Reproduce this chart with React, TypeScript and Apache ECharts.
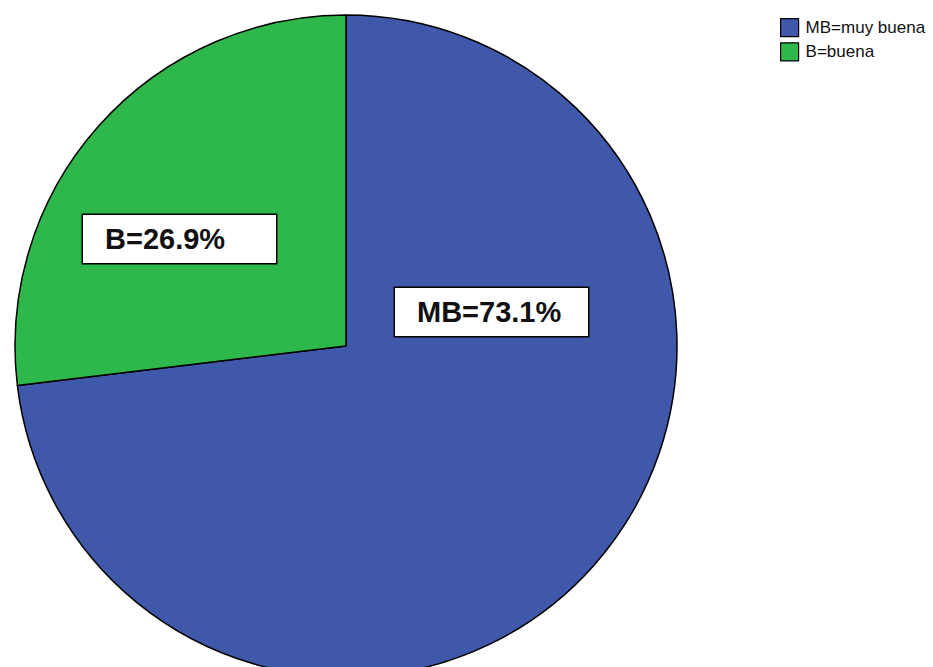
import React, { useEffect, useRef } from "react";
import * as echarts from "echarts";

const categories = ["MB=muy buena", "B=buena"];
const values = [73.1, 26.9];
const labelTexts = ["MB=73.1%", "B=26.9%"];
const colors = ["#3f58aa", "#2eb84b"];
// label box centres (layout, px)
const labelCentres = [
  [491.5, 312],
  [179.5, 239],
];

export default function App() {
  const ref = useRef<HTMLDivElement>(null);
  useEffect(() => {
    if (!ref.current) return;
    const chart = echarts.init(ref.current, undefined, { renderer: "svg" });
    chart.setOption({
      animation: false,
      backgroundColor: "#ffffff",
      legend: {
        orient: "vertical",
        left: 780,
        top: 18,
        icon: "rect",
        itemWidth: 18,
        itemHeight: 18,
        itemGap: 5,
        padding: 0,
        selectedMode: false,
        data: categories,
        itemStyle: { borderColor: "#000", borderWidth: 1.2 },
        textStyle: {
          fontFamily: "Liberation Sans, Arial, sans-serif",
          fontSize: 17,
          color: "#111",
          padding: [0, 0, 0, 2],
        },
      },
      series: [
        {
          type: "pie",
          center: [346, 346],
          radius: 331,
          startAngle: 90,
          clockwise: true,
          silent: true,
          itemStyle: { borderColor: "#000", borderWidth: 1.5 },
          label: {
            show: true,
            position: "inside",
            formatter: (p: any) => labelTexts[p.dataIndex],
            fontFamily: "Liberation Sans, Arial, sans-serif",
            fontWeight: "bold",
            fontSize: 29,
            color: "#111",
            backgroundColor: "#fff",
            borderColor: "#000",
            borderWidth: 1.5,
            width: 149,
            align: "left",
            lineHeight: 30,
            padding: [11, 22, 7, 22],
          },
          labelLayout: (params: any) => {
            const c = labelCentres[params.dataIndex];
            return { x: c[0] - 96.5, y: c[1], align: "left", verticalAlign: "middle" };
          },
          labelLine: { show: false },
          data: categories.map((name, i) => ({
            name,
            value: values[i],
            itemStyle: { color: colors[i] },
          })),
        },
      ],
    });
    return () => chart.dispose();
  }, []);
  return (
    <div
      ref={ref}
      style={{ position: "fixed", left: 0, top: 0, width: 933, height: 667 }}
    />
  );
}
